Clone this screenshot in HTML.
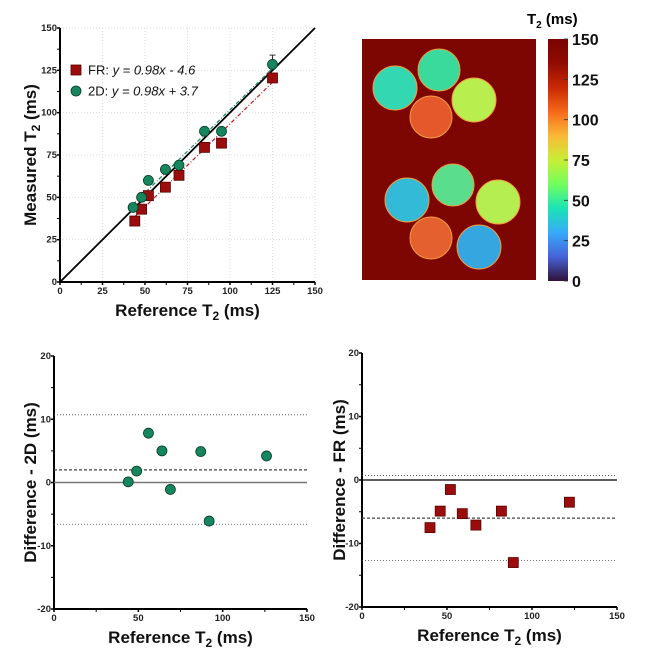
<!DOCTYPE html>
<html><head><meta charset="utf-8">
<style>
html,body{margin:0;padding:0;background:#fff;}
svg{display:block;font-family:"Liberation Sans",Arial,sans-serif;}
.tick{font-size:9.5px;font-weight:bold;fill:#222;}
.title{font-size:17px;font-weight:bold;fill:#111;}
</style></head>
<body>
<svg id="fig" width="658" height="667" viewBox="0 0 658 667">
<defs>
<linearGradient id="turbo" x1="0" y1="1" x2="0" y2="0">
<stop offset="0" stop-color="#30123b"/><stop offset="0.1" stop-color="#4662d7"/>
<stop offset="0.2" stop-color="#36aaf9"/><stop offset="0.3" stop-color="#1ae4b6"/>
<stop offset="0.4" stop-color="#72fe5e"/><stop offset="0.5" stop-color="#c7ef34"/>
<stop offset="0.6" stop-color="#fbb938"/><stop offset="0.7" stop-color="#f56918"/>
<stop offset="0.8" stop-color="#c92903"/><stop offset="0.9" stop-color="#900c00"/>
<stop offset="1" stop-color="#7a0403"/>
</linearGradient>
</defs>
<g id="map">
<rect x="362" y="39" width="174" height="241" fill="#7d0502"/>
<circle cx="395" cy="88" r="22" fill="#33d8b2" stroke="#f0a040" stroke-width="1"/>
<circle cx="439" cy="70" r="21" fill="#3ad99c" stroke="#f0a040" stroke-width="1"/>
<circle cx="474" cy="100" r="22" fill="#b8ef4e" stroke="#f0a040" stroke-width="1"/>
<circle cx="431" cy="117" r="21" fill="#e4582c" stroke="#f0a040" stroke-width="1"/>
<circle cx="407" cy="200" r="22" fill="#33bad6" stroke="#f0a040" stroke-width="1"/>
<circle cx="453" cy="185" r="21" fill="#5ade8e" stroke="#f0a040" stroke-width="1"/>
<circle cx="498" cy="202" r="22" fill="#b4ee50" stroke="#f0a040" stroke-width="1"/>
<circle cx="431" cy="238" r="21" fill="#e4602e" stroke="#f0a040" stroke-width="1"/>
<circle cx="479" cy="247" r="22" fill="#35a6e0" stroke="#f0a040" stroke-width="1"/>
<rect x="548" y="39" width="20" height="242" fill="url(#turbo)"/>
<text x="527" y="24" font-size="15" font-weight="bold">T<tspan font-size="10" dy="4">2</tspan><tspan dy="-4"> (ms)</tspan></text>
</g>
<g id="plots"></g>
</svg>
<script>
// Top scatter data
const refFR = [44,48,52,62,70,85,95,125];
const measFR = [36,43,51,56,63,79.5,82,120.5];
const ref2D = [43,48,52,62,70,85,95,125];
const meas2D = [44,50,60,66.5,69,89,89,128.5];
// Bland-Altman 2D
const baX2D = [44,49,56,64,69,87,92,126];
const baY2D = [0.1,1.8,7.8,5,-1.1,4.9,-6.1,4.2];
const baLines2D = [2.0,10.7,-6.6];
// Bland-Altman FR
const baXFR = [40,46,52,59,67,82,89,122];
const baYFR = [-7.5,-4.9,-1.5,-5.3,-7.1,-4.9,-13,-3.5];
const baLinesFR = [-6.0,0.7,-12.7];
// Colorbar ticks
const cbTicks = [0,25,50,75,100,125,150];

const NS='http://www.w3.org/2000/svg';
const root=document.getElementById('plots');
function mk(tag,attrs,parent){const e=document.createElementNS(NS,tag);for(const k in attrs)e.setAttribute(k,attrs[k]);(parent||root).appendChild(e);return e;}

function axes(o){
  const g=mk('g',{});
  
  
  const sx=v=>o.x0+(v-o.xmin)/(o.xmax-o.xmin)*(o.x1-o.x0);
  const sy=v=>o.y0-(v-o.ymin)/(o.ymax-o.ymin)*(o.y0-o.y1);
  if(o.grid){
    o.xt.forEach(v=>{if(v>0){const l=mk('line',{x1:sx(v),x2:sx(v),y1:o.y1,y2:o.y0,stroke:'#ddd','stroke-dasharray':'1,2'},g);}});
    o.yt.forEach(v=>{if(v>0){const l=mk('line',{x1:o.x0,x2:o.x1,y1:sy(v),y2:sy(v),stroke:'#ddd','stroke-dasharray':'1,2'},g);}});
  }
  const ax=mk('line',{x1:o.x0,x2:o.x1,y1:o.y0,y2:o.y0,stroke:'#000','stroke-width':2},g);
  
  const ay=mk('line',{x1:o.x0,x2:o.x0,y1:o.y0+1,y2:o.y1,stroke:'#000','stroke-width':2},g);
  
  o.xt.forEach(v=>{
    mk('line',{x1:sx(v),x2:sx(v),y1:o.y0,y2:o.y0+3,stroke:'#000','stroke-width':1.5},g);
    const t=mk('text',{x:sx(v),y:o.y0+12,'text-anchor':'middle',class:'tick'},g);t.textContent=v;
    
  });
  o.xm.forEach(v=>mk('line',{x1:sx(v),x2:sx(v),y1:o.y0,y2:o.y0+3,stroke:'#000','stroke-width':1},g));
  o.yt.forEach(v=>{
    mk('line',{x1:o.x0-3,x2:o.x0,y1:sy(v),y2:sy(v),stroke:'#000','stroke-width':1.5},g);
    const t=mk('text',{x:o.x0-3,y:sy(v)+3,'text-anchor':'end',class:'tick'},g);t.textContent=v;
    
  });
  o.ym.forEach(v=>mk('line',{x1:o.x0-3,x2:o.x0,y1:sy(v),y2:sy(v),stroke:'#000','stroke-width':1},g));
  const xt=mk('text',{x:(o.x0+o.x1)/2,y:o.y0+34,'text-anchor':'middle',class:'title'},g);
  xt.innerHTML='Reference T<tspan font-size="12" dy="4">2</tspan><tspan dy="-4"> (ms)</tspan>';
  
  const yt=mk('text',{x:0,y:0,'text-anchor':'middle',class:'title',transform:`translate(${o.ytx},${(o.y0+o.y1)/2}) rotate(-90)`},g);
  yt.innerHTML=o.ytitle;
  
  return {g,sx,sy};
}

// Top scatter
{
  const A=axes({name:'scatter-chart',x0:60,x1:315,y0:282,y1:28,xmin:0,xmax:150,ymin:0,ymax:150,
    xt:[0,25,50,75,100,125,150],xm:[12.5,37.5,62.5,87.5,112.5,137.5],yt:[0,25,50,75,100,125,150],ym:[12.5,37.5,62.5,87.5,112.5,137.5],
    grid:true,ytx:36,ytitle:'Measured T<tspan font-size="12" dy="4">2</tspan><tspan dy="-4"> (ms)</tspan>'});
  const {g,sx,sy}=A;
  const id=mk('line',{x1:sx(0),y1:sy(0),x2:sx(150),y2:sy(150),stroke:'#000','stroke-width':1.8},g);
  
  const f2=mk('line',{x1:sx(43),y1:sy(0.98*43+3.7),x2:sx(125),y2:sy(0.98*125+3.7),stroke:'#1a8a60','stroke-width':1.2,'stroke-dasharray':'4,2,1,2'},g);
  
  const fr=mk('line',{x1:sx(44),y1:sy(0.98*44-4.6),x2:sx(125),y2:sy(0.98*125-4.6),stroke:'#b02020','stroke-width':1.2,'stroke-dasharray':'4,2,1,2'},g);
  
  const eb=mk('path',{d:`M${sx(125)},${sy(128.5)}V${sy(134)}M${sx(125)-3},${sy(134)}H${sx(125)+3}`,stroke:'#333','stroke-width':1,fill:'none'},g);
  
  refFR.forEach((x,i)=>{const r=mk('rect',{x:sx(x)-5,y:sy(measFR[i])-5,width:10,height:10,fill:'#9b0d0d',stroke:'#5a0000','stroke-width':0.8},g);
    });
  ref2D.forEach((x,i)=>{const c=mk('circle',{cx:sx(x),cy:sy(meas2D[i]),r:5,fill:'#15865e',stroke:'#0a3a28','stroke-width':0.8},g);
    });
  const l1=mk('g',{},g);
  mk('rect',{x:71,y:65,width:10,height:10,fill:'#9b0d0d',stroke:'#5a0000','stroke-width':0.8},l1);
  const t1=mk('text',{x:88,y:74.5,'font-size':13,fill:'#111'},l1);t1.innerHTML='FR: <tspan font-style="italic">y = 0.98x - 4.6</tspan>';
  const l2=mk('g',{},g);
  mk('circle',{cx:76,cy:91,r:5,fill:'#15865e',stroke:'#0a3a28','stroke-width':0.8},l2);
  const t2=mk('text',{x:88,y:95.5,'font-size':13,fill:'#111'},l2);t2.innerHTML='2D: <tspan font-style="italic">y = 0.98x + 3.7</tspan>';
}

// Bland-Altman 2D
{
  const {g,sx,sy}=axes({name:'bland-altman-2d',x0:54,x1:307,y0:609,y1:356,xmin:0,xmax:150,ymin:-20,ymax:20,
    xt:[0,50,100,150],xm:[25,75,125],yt:[-20,-10,0,10,20],ym:[-15,-5,5,15],grid:false,ytx:36,ytitle:'Difference - 2D (ms)'});
  const z=mk('line',{x1:sx(0),x2:sx(150),y1:sy(0),y2:sy(0),stroke:'#777','stroke-width':1.5},g);
  
  baLines2D.forEach((v,i)=>{const l=mk('line',{x1:sx(0),x2:sx(150),y1:sy(v),y2:sy(v),stroke:'#444','stroke-width':i?0.8:1.2,'stroke-dasharray':i?'1,2':'3,2'},g);
    });
  baX2D.forEach((x,i)=>{const c=mk('circle',{cx:sx(x),cy:sy(baY2D[i]),r:5,fill:'#15865e',stroke:'#0a3a28','stroke-width':0.8},g);
    });
}

// Bland-Altman FR
{
  const {g,sx,sy}=axes({name:'bland-altman-fr',x0:362,x1:617,y0:607,y1:353,xmin:0,xmax:150,ymin:-20,ymax:20,
    xt:[0,50,100,150],xm:[25,75,125],yt:[-20,-10,0,10,20],ym:[-15,-5,5,15],grid:false,ytx:345,ytitle:'Difference - FR (ms)'});
  const z=mk('line',{x1:sx(0),x2:sx(150),y1:sy(0),y2:sy(0),stroke:'#000','stroke-width':1.2},g);
  
  baLinesFR.forEach((v,i)=>{const l=mk('line',{x1:sx(0),x2:sx(150),y1:sy(v),y2:sy(v),stroke:'#444','stroke-width':i?0.8:1.2,'stroke-dasharray':i?'1,2':'3,2'},g);
    });
  baXFR.forEach((x,i)=>{const r=mk('rect',{x:sx(x)-5,y:sy(baYFR[i])-5,width:10,height:10,fill:'#9b0d0d',stroke:'#5a0000','stroke-width':0.8},g);
    });
}

// Colorbar ticks
{
  const map=document.getElementById('map');
  cbTicks.forEach(v=>{
    const y=281-v/150*242;
    mk('line',{x1:564,x2:568,y1:y,y2:y,stroke:'#333','stroke-width':0.8},map);
    const t=mk('text',{x:572,y:y+6,'font-size':16,'font-weight':'bold',fill:'#111'},map);
    t.textContent=v;
    
    
  });
}
</script>
</body></html>
